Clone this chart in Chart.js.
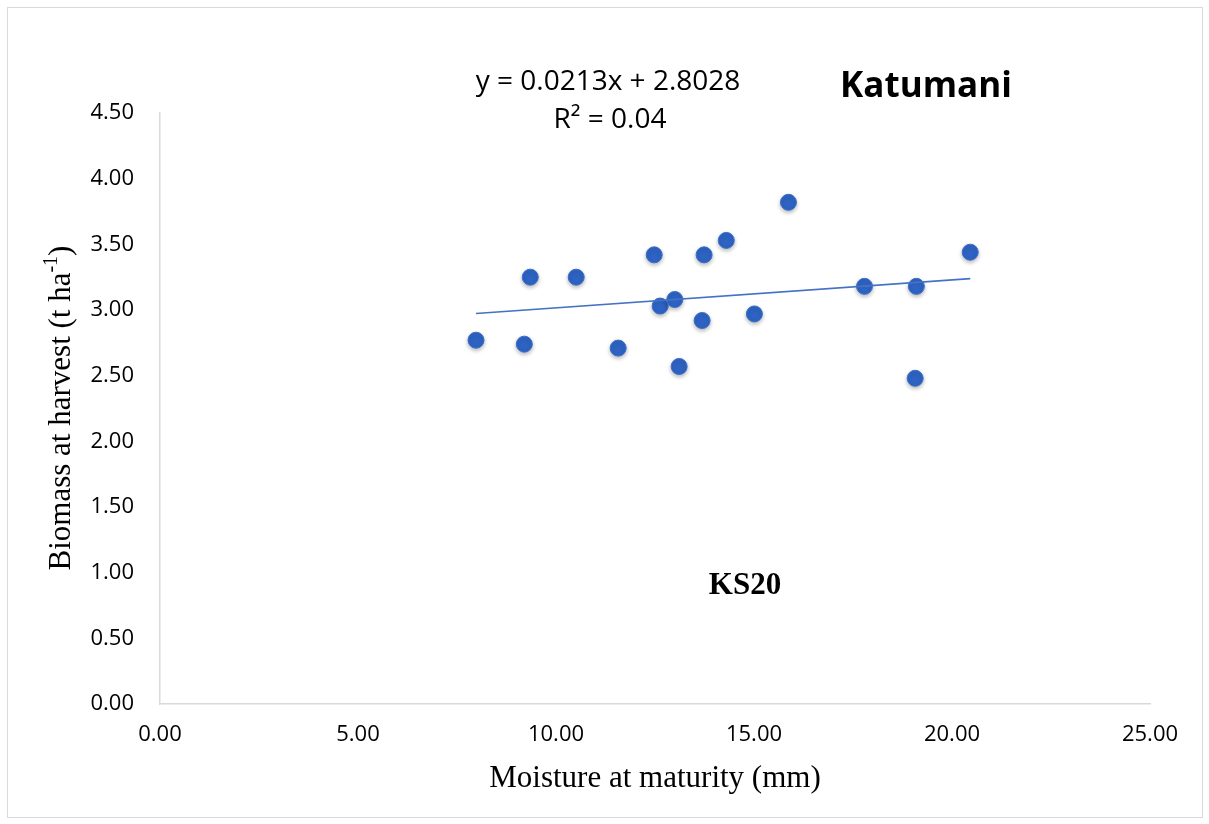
<!DOCTYPE html>
<html>
<head>
<meta charset="utf-8">
<script src="https://cdn.jsdelivr.net/npm/chart.js@4/dist/chart.umd.min.js"></script>
<style>
  html, body { margin: 0; padding: 0; background: #fff; }
  #wrap { position: relative; width: 1209px; height: 824px; }
  #frame { position: absolute; left: 7px; top: 7px; right: 6px; bottom: 6px; border: 1px solid #d9d9d9; pointer-events: none; }
</style>
</head>
<body>
<div id="wrap">
  <canvas id="scatter" width="1209" height="824"></canvas>
  <div id="frame"></div>
</div>
<script>
// moisture at maturity (mm) vs biomass at harvest (t/ha), Katumani KS20
const moisture = [7.98, 9.20, 9.35, 10.51, 11.57, 12.48, 12.63, 13.00, 13.11, 13.69, 13.74, 14.30, 15.01, 15.87, 17.79, 19.10, 19.07, 20.46];
const biomass = [2.77, 2.74, 3.25, 3.25, 2.71, 3.42, 3.03, 3.08, 2.57, 2.92, 3.42, 3.53, 2.97, 3.82, 3.18, 3.18, 2.48, 3.44];
const xTicks = [0, 5, 10, 15, 20, 25];
const yTicks = [0, 0.5, 1, 1.5, 2, 2.5, 3, 3.5, 4, 4.5];

// linear trend shown on the chart
const slope = 0.0213;
const intercept = 2.8028;
const rSquared = '0.04';

const points = moisture.map((m, i) => ({ x: m, y: biomass[i] }));
const xMin = Math.min(...moisture);
const xMax = Math.max(...moisture);
const trend = [
  { x: xMin, y: slope * xMin + intercept },
  { x: xMax, y: slope * xMax + intercept },
];

const serif = '"Liberation Serif", "Times New Roman", serif';
const sans = '"Open Sans", "Liberation Sans", sans-serif';

const labels = {
  id: 'labels',
  afterDraw(chart) {
    const ctx = chart.ctx;
    ctx.save();
    ctx.fillStyle = '#000';
    ctx.textBaseline = 'middle';
    ctx.textAlign = 'center';

    ctx.font = '28px ' + sans;
    ctx.fillText('y = ' + slope + 'x + ' + intercept, 608, 82);
    ctx.fillText('R² = ' + rSquared, 610, 120);

    ctx.font = 'bold 35px ' + sans;
    ctx.fillText('Katumani', 926, 87);

    ctx.font = 'bold 31px ' + serif;
    ctx.fillText('KS20', 745, 586);

    ctx.font = '31px ' + serif;
    ctx.fillText('Moisture at maturity (mm)', 655, 779);

    // y title with superscript
    ctx.translate(62, 408);
    ctx.rotate(-Math.PI / 2);
    const main = 'Biomass at harvest (t ha';
    const sup = '-1';
    const end = ')';
    ctx.font = '31px ' + serif;
    const wMain = ctx.measureText(main).width;
    const wEnd = ctx.measureText(end).width;
    ctx.font = '20px ' + serif;
    const wSup = ctx.measureText(sup).width;
    let x = -(wMain + wSup + wEnd) / 2;
    ctx.textAlign = 'left';
    ctx.font = '31px ' + serif;
    ctx.fillText(main, x, 0);
    x += wMain;
    ctx.font = '20px ' + serif;
    ctx.fillText(sup, x, -10);
    x += wSup;
    ctx.font = '31px ' + serif;
    ctx.fillText(end, x, 0);
    ctx.restore();
  }
};

const shadow = {
  id: 'shadow',
  beforeDatasetDraw(chart, args) {
    if (args.index !== 1) return;
    const ctx = chart.ctx;
    ctx.save();
    ctx.shadowColor = 'rgba(0,0,0,0.28)';
    ctx.shadowBlur = 4;
    ctx.shadowOffsetY = 2;
  },
  afterDatasetDraw(chart, args) {
    if (args.index !== 1) return;
    chart.ctx.restore();
  }
};

new Chart(document.getElementById('scatter'), {
  type: 'scatter',
  data: {
    datasets: [
      {
        type: 'line',
        data: trend,
        borderColor: '#4472c4',
        borderWidth: 1.6,
        pointRadius: 0,
        fill: false,
      },
      {
        data: points,
        backgroundColor: '#2e63c3',
        borderColor: '#3a6ecb',
        borderWidth: 1,
        pointRadius: 8,
        pointHoverRadius: 8,
      },
    ],
  },
  options: {
    responsive: false,
    animation: false,
    events: [],
    layout: { padding: { left: 0, top: 113, right: 59, bottom: 0 } },
    plugins: { legend: { display: false }, tooltip: { enabled: false } },
    scales: {
      x: {
        type: 'linear',
        min: 0,
        max: 25,
        afterFit(scale) { scale.height = 120; },
        afterBuildTicks(scale) { scale.ticks = xTicks.map(v => ({ value: v })); },
        grid: { display: false, drawTicks: false },
        border: { display: true, color: '#d9d9d9', width: 1.5 },
        ticks: {
          padding: 18,
          color: '#000',
          font: { family: sans, size: 22 },
          callback: v => v.toFixed(2),
        },
      },
      y: {
        min: 0,
        max: 4.5,
        afterFit(scale) { scale.width = 160; },
        afterBuildTicks(scale) { scale.ticks = yTicks.map(v => ({ value: v })); },
        grid: { display: false, drawTicks: false },
        border: { display: true, color: '#d9d9d9', width: 1.5 },
        ticks: {
          padding: 26,
          color: '#000',
          font: { family: sans, size: 22 },
          callback: v => v.toFixed(2),
        },
      },
    },
  },
  plugins: [shadow, labels],
});
</script>
</body>
</html>
